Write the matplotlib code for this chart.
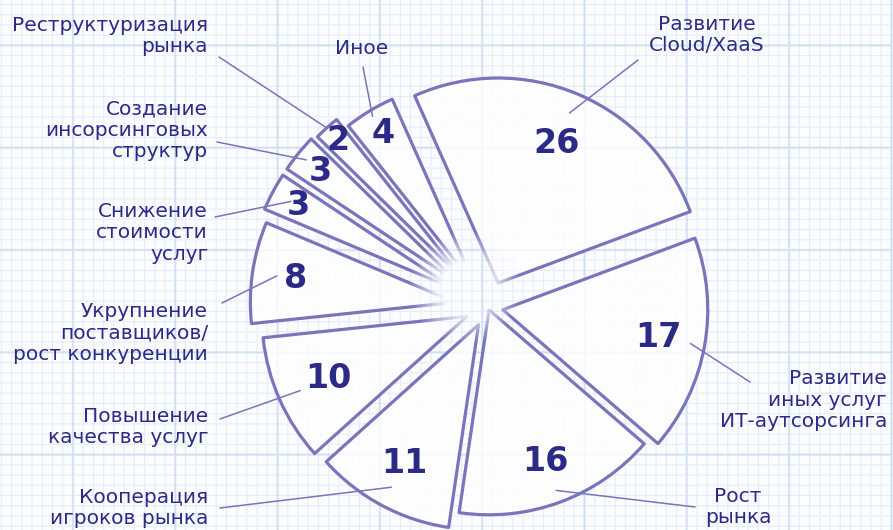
import numpy as np
import matplotlib
matplotlib.use('Agg')
from matplotlib import pyplot as plt

# share of answers, clockwise from the top
categories = ['Развитие\nCloud/XaaS', 'Развитие\nиных услуг\nИТ-аутсорсинга', 'Рост\nрынка',
              'Кооперация\nигроков рынка', 'Повышение\nкачества услуг',
              'Укрупнение\nпоставщиков/\nрост конкуренции', 'Снижение\nстоимости\nуслуг',
              'Создание\nинсорсинговых\nструктур', 'Реструктуризация\nрынка', 'Иное']
values = [26, 17, 16, 11, 10, 8, 3, 3, 2, 4]

# layout (pixels, y grows downwards)
W, H = 893, 530
center = (488, 307)
radius = 205
explode = [26, 15, 3, 20, 23, 33, 39, 39, 36, 24]
num_pos = [0.74, 0.77, 0.79, 0.77, 0.74, 0.79, 0.86, 0.86, 0.92, 0.87]
lead_pos = [0.90, 0.93, 0.94, 0.90, 0.89, 0.88, 0.90, 0.95, 1.0, 0.97]
text_xy = [(707, 35), (887, 400), (738, 507), (208, 508), (208, 427),
           (208, 333), (208, 233), (208, 130), (208, 36), (362, 48)]
text_ha = ['center', 'right', 'center', 'right', 'right',
           'right', 'right', 'right', 'right', 'center']
lead_start = [(638, 60), (750, 382), (695, 507), (220, 508), (220, 419),
              (222, 303), (215, 217), (217, 142), (219, 57), (363, 67)]

edge_col = '#7a74ba'
text_col = '#2b2a86'


def grid_paper(h, w):
    # light blue squared paper
    x = np.arange(w) + 0.5
    y = np.arange(h) + 0.5

    def lines(t, x0, step, width):
        d = np.abs(((t - x0) / step + 0.5) % 1 - 0.5) * step
        return np.clip(1 - d / width, 0, 1)

    minor = np.maximum(lines(x, 73, 10.23, 1.1)[None, :], lines(y, 250, 10.23, 1.1)[:, None])
    major = np.maximum(lines(x, 73, 102.3, 1.7)[None, :], lines(y, 250, 102.3, 1.7)[:, None])
    img = np.ones((h, w, 3)) * np.array([252, 253, 255]) / 255
    c_min = np.array([226, 237, 249]) / 255
    c_maj = np.array([203, 223, 243]) / 255
    img = img * (1 - minor[..., None]) + c_min * minor[..., None]
    img = img * (1 - major[..., None]) + c_maj * major[..., None]
    return img


fig = plt.figure(figsize=(W / 100, H / 100), dpi=100)
ax = fig.add_axes([0, 0, 1, 1])

paper = grid_paper(H, W)
ax.imshow(paper, extent=(0, W, H, 0), zorder=0, interpolation='bilinear')

wedges, _ = ax.pie(values, center=center, radius=radius, explode=explode,
                   startangle=-114, counterclock=True,
                   wedgeprops=dict(facecolor=(1, 1, 1, 0.8), edgecolor=edge_col,
                                   linewidth=2.3, joinstyle='round', zorder=2))

# tips of the slices fade into the paper
yy, xx = np.mgrid[0:H, 0:W] + 0.5
d = np.hypot(xx - 465, yy - 287)
fade = np.clip(1 - (d - 24) / 32, 0, 1)
ax.imshow(np.dstack([paper, fade]), extent=(0, W, H, 0), zorder=3, interpolation='bilinear')

for i, w in enumerate(wedges):
    mid = np.deg2rad((w.theta1 + w.theta2) / 2)
    cx, cy = w.center
    u = np.array([np.cos(mid), np.sin(mid)])
    nx, ny = np.array([cx, cy]) + num_pos[i] * w.r * u
    ax.text(nx, ny, str(values[i]), ha='center', va='center', fontsize=24,
            fontweight='bold', color=text_col, zorder=5)
    ex, ey = np.array([cx, cy]) + lead_pos[i] * w.r * u
    sx, sy = lead_start[i]
    ax.plot([sx, ex], [sy, ey], color=edge_col, lw=1.1, zorder=4, solid_capstyle='round')
    tx, ty = text_xy[i]
    ax.text(tx, ty, categories[i], ha=text_ha[i], va='center', fontsize=14.5,
            color=text_col, linespacing=1.15, multialignment=text_ha[i], zorder=5)

ax.set_xlim(0, W)
ax.set_ylim(H, 0)
ax.set_axis_off()
fig.savefig('out.png', dpi=100)
